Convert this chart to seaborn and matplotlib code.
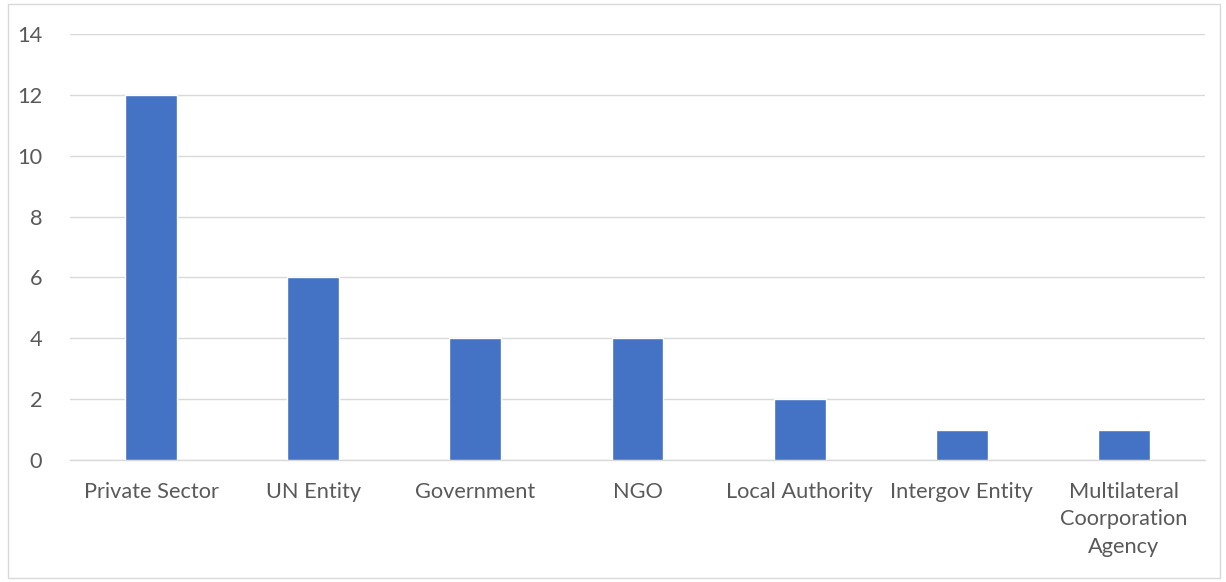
import matplotlib
matplotlib.use("Agg")
import matplotlib.pyplot as plt
import seaborn as sns
import pandas as pd
from matplotlib.patches import Rectangle

categories = ["Private Sector", "UN Entity", "Government", "NGO", "Local Authority",
              "Intergov Entity", "Multilateral\nCoorporation\nAgency"]
values = [12, 6, 4, 4, 2, 1, 1]
yticks = [0, 2, 4, 6, 8, 10, 12, 14]

sns.set_theme(style="white")
plt.rcParams['font.family'] = ['Lato', 'DejaVu Sans']

df = pd.DataFrame({"category": categories, "value": values})

fig = plt.figure(figsize=(12.26, 5.82), dpi=100)
ax = fig.add_axes([70/1226, 1-460/582, (1205-70)/1226, (460-34)/582])
sns.barplot(data=df, x="category", y="value", color="#4472C4", width=0.32,
            saturation=1, ax=ax, zorder=3)
ax.set_ylim(0, 14)
ax.set_yticks(yticks)
ax.set_yticklabels([str(t) for t in yticks])
ax.yaxis.grid(True, color="#D9D9D9", linewidth=1, zorder=0)
ax.set_axisbelow(True)
for s in ["top", "right", "left"]:
    ax.spines[s].set_visible(False)
ax.spines["bottom"].set_color("#D9D9D9")
ax.spines["bottom"].set_linewidth(1)
ax.set_xlabel("")
ax.set_ylabel("")
ax.tick_params(axis="both", length=0, colors="#595959", labelsize=15.7)
ax.tick_params(axis="y", pad=20)
ax.tick_params(axis="x", pad=16)
for lbl in ax.get_xticklabels():
    lbl.set_linespacing(1.45)

fig.patches.append(Rectangle((8/1226, 4/582), (1220-8)/1226, (578-4)/582,
                             transform=fig.transFigure, fill=False,
                             edgecolor="#D9D9D9", linewidth=1))
fig.savefig("out.png", dpi=100, facecolor="white")
